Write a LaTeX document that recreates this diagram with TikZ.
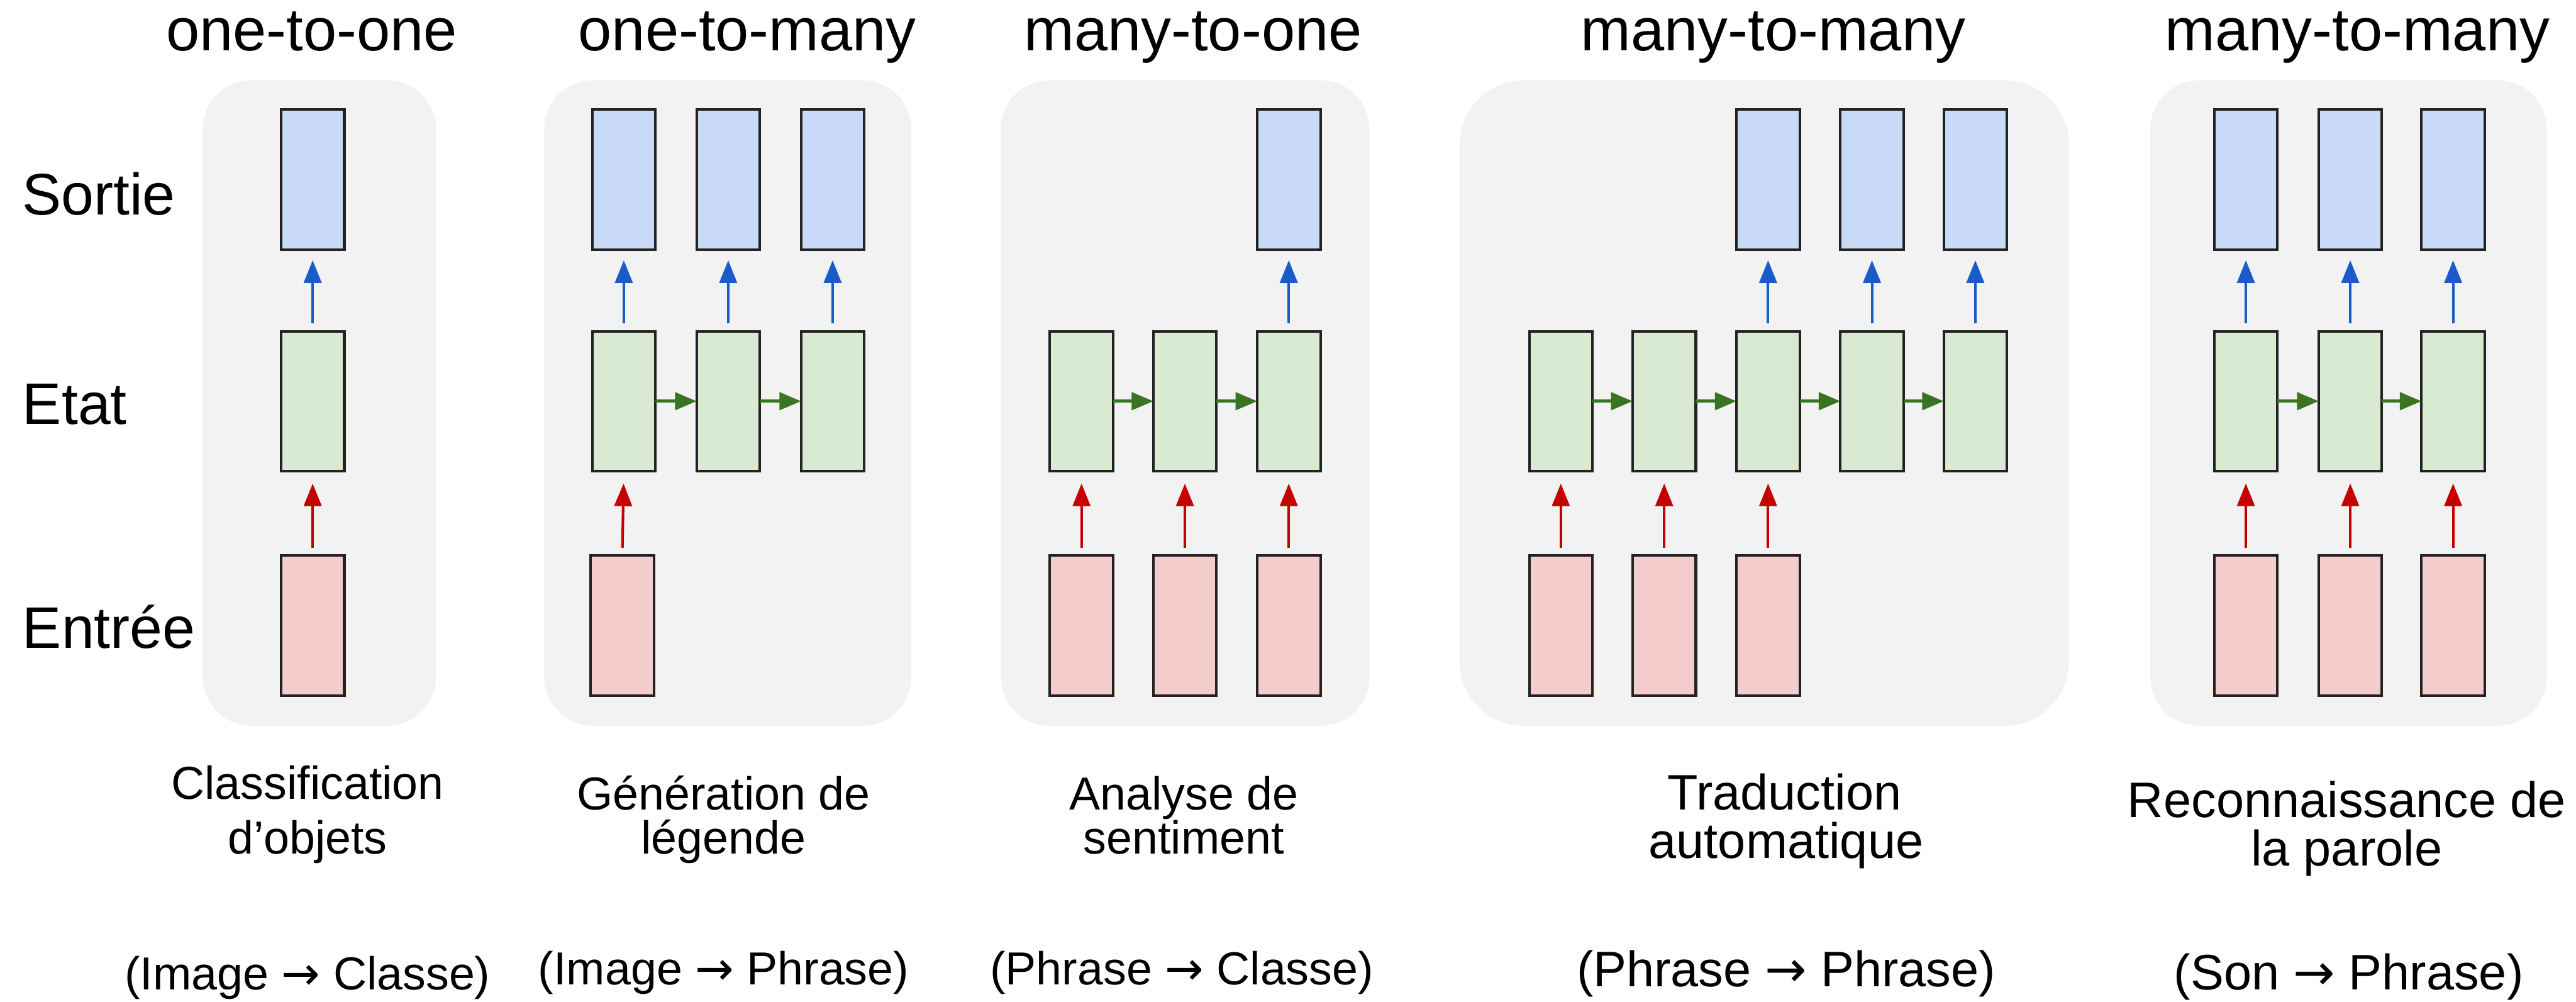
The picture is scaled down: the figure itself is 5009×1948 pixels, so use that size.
\documentclass[tikz,border=0pt]{standalone}
\usepackage{fontspec}
\setmainfont{Liberation Sans}
\newfontfamily\arrowfont{DejaVu Sans}
\usetikzlibrary{arrows.meta}

\definecolor{panelbg}{HTML}{F2F2F2}
\definecolor{outfill}{HTML}{C9DAF8}
\definecolor{statefill}{HTML}{D9EAD3}
\definecolor{infill}{HTML}{F4CCCC}
\definecolor{boxline}{HTML}{222222}
\definecolor{arrblue}{HTML}{1A5BC8}
\definecolor{arrred}{HTML}{C40000}
\definecolor{arrgreen}{HTML}{3A7420}

\tikzset{
  panel/.style={fill=panelbg, rounded corners=19pt},
  cell/.style={draw=boxline, line width=1pt, minimum width=24.6pt,
    minimum height=54.4pt, inner sep=0pt, outer sep=0pt},
  outcell/.style={cell, fill=outfill},
  statecell/.style={cell, fill=statefill},
  incell/.style={cell, fill=infill},
  upblue/.style={draw=arrblue, line width=1pt,
    -{Triangle[length=8.8pt,width=6.8pt]}, shorten <=3.2pt, shorten >=4.2pt},
  upred/.style={draw=arrred, line width=1pt,
    -{Triangle[length=8.8pt,width=6.8pt]}, shorten <=3.0pt, shorten >=4.8pt},
  rightgreen/.style={draw=arrgreen, line width=1.2pt,
    -{Triangle[length=8.4pt,width=6.8pt]}},
  title/.style={anchor=base, inner sep=0pt, font=\fontsize{23.4}{28}\selectfont},
  rowlabel/.style={anchor=base west, inner sep=0pt, font=\fontsize{22.8}{27}\selectfont},
  capA/.style={anchor=base, inner sep=0pt, font=\fontsize{18}{22}\selectfont},
  capB/.style={anchor=base, inner sep=0pt, font=\fontsize{19.4}{23}\selectfont},
}

\begin{document}
\begin{tikzpicture}[x=0.2pt, y=-0.2pt]
\useasboundingbox (0,0) rectangle (5009,1948);

% grey backgrounds of the five schemes
\fill[panel] (394,156) rectangle (848,1411);
\fill[panel] (1058,156) rectangle (1772,1411);
\fill[panel] (1946,156) rectangle (2663,1411);
\fill[panel, rounded corners=25pt] (2838,156) rectangle (4023,1411);
\fill[panel] (4181,156) rectangle (4952,1411);

% titles
\node[title] (t1) at (606,98) {one-to-one};
\node[title] (t2) at (1453,98) {one-to-many};
\node[title] (t3) at (2320,98) {many-to-one};
\node[title] (t4) at (3448,98) {many-to-many};
\node[title] (t5) at (4584,98) {many-to-many};

% row labels
\node[rowlabel] (lout) at (42,418) {Sortie};
\node[rowlabel] (lstate) at (43,825) {Etat};
\node[rowlabel] (lin) at (43,1260) {Entrée};

% one-to-one
\node[outcell] (a1o) at (608,349) {};
\node[statecell] (a1s) at (608,780) {};
\node[incell] (a1i) at (608,1216) {};
\draw[upred] (a1i.north) -- (a1s.south);
\draw[upblue] (a1s.north) -- (a1o.south);

% one-to-many
\foreach \k/\x in {1/1213,2/1416,3/1619} {
  \node[outcell] (b\k o) at (\x,349) {};
  \node[statecell] (b\k s) at (\x,780) {};
  \draw[upblue] (b\k s.north) -- (b\k o.south);
}
\node[incell] (b1i) at (1210,1216) {};
\draw[upred] (b1i.north) -- (b1s.south);
\draw[rightgreen] (b1s.east) -- (b2s.west);
\draw[rightgreen] (b2s.east) -- (b3s.west);

% many-to-one
\foreach \k/\x in {1/2103,2/2304,3/2506} {
  \node[statecell] (c\k s) at (\x,780) {};
  \node[incell] (c\k i) at (\x,1216) {};
  \draw[upred] (c\k i.north) -- (c\k s.south);
}
\node[outcell] (c3o) at (2506,349) {};
\draw[upblue] (c3s.north) -- (c3o.south);
\draw[rightgreen] (c1s.east) -- (c2s.west);
\draw[rightgreen] (c2s.east) -- (c3s.west);

% many-to-many, encoder then decoder
\foreach \k/\x in {1/3035,2/3236,3/3438,4/3640,5/3841} {
  \node[statecell] (d\k s) at (\x,780) {};
}
\foreach \k/\x in {1/3035,2/3236,3/3438} {
  \node[incell] (d\k i) at (\x,1216) {};
  \draw[upred] (d\k i.north) -- (d\k s.south);
}
\foreach \k/\x in {3/3438,4/3640,5/3841} {
  \node[outcell] (d\k o) at (\x,349) {};
  \draw[upblue] (d\k s.north) -- (d\k o.south);
}
\draw[rightgreen] (d1s.east) -- (d2s.west);
\draw[rightgreen] (d2s.east) -- (d3s.west);
\draw[rightgreen] (d3s.east) -- (d4s.west);
\draw[rightgreen] (d4s.east) -- (d5s.west);

% many-to-many, synchronised
\foreach \k/\x in {1/4367,2/4570,3/4770} {
  \node[outcell] (e\k o) at (\x,349) {};
  \node[statecell] (e\k s) at (\x,780) {};
  \node[incell] (e\k i) at (\x,1216) {};
  \draw[upred] (e\k i.north) -- (e\k s.south);
  \draw[upblue] (e\k s.north) -- (e\k o.south);
}
\draw[rightgreen] (e1s.east) -- (e2s.west);
\draw[rightgreen] (e2s.east) -- (e3s.west);

% captions
\node[capA] (c1a) at (598,1554) {Classification};
\node[capA] (c1b) at (598,1660) {d’objets};
\node[capA] (c2a) at (1407,1575) {Génération de};
\node[capA] (c2b) at (1407,1660) {légende};
\node[capA] (c3a) at (2302,1575) {Analyse de};
\node[capA] (c3b) at (2302,1660) {sentiment};
\node[capB] (c4a) at (3470,1575) {Traduction};
\node[capB] (c4b) at (3473,1669) {automatique};
\node[capB] (c5a) at (4563,1589) {Reconnaissance de};
\node[capB] (c5b) at (4563,1683) {la parole};

% input / output types
\node[capA] (m1) at (598,1924) {(Image {\arrowfont →} Classe)};
\node[capA] (m2) at (1407,1914) {(Image {\arrowfont →} Phrase)};
\node[capA] (m3) at (2298,1914) {(Phrase {\arrowfont →} Classe)};
\node[capB] (m4) at (3473,1918) {(Phrase {\arrowfont →} Phrase)};
\node[capB] (m5) at (4567,1924) {(Son {\arrowfont →} Phrase)};
\end{tikzpicture}
\end{document}
